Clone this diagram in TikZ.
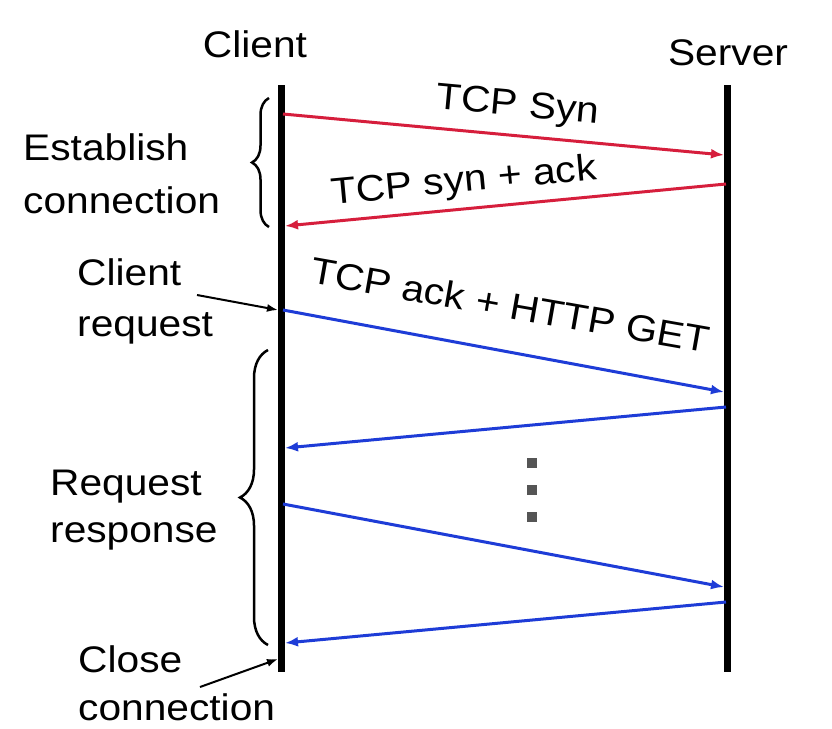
\documentclass[tikz,border=0pt]{standalone}
\usepackage{fontspec}
\setmainfont[FakeStretch=1.1]{Liberation Sans}
\usetikzlibrary{arrows.meta,decorations.pathreplacing}
\definecolor{msgred}{RGB}{214,30,60}
\definecolor{msgblue}{RGB}{30,60,215}
\definecolor{dotgray}{RGB}{85,85,85}
\begin{document}
\begin{tikzpicture}[x=1pt,y=-1pt,
  txt/.style={font=\fontsize{37}{44}\selectfont, inner sep=0pt},
  lbl/.style={txt, anchor=base west},
  ttl/.style={txt, anchor=base},
  lifeline/.style={line width=7pt},
  redmsg/.style={draw=msgred, line width=3pt, -{Latex[length=13pt,width=10pt]}},
  bluemsg/.style={draw=msgblue, line width=3pt, -{Latex[length=13pt,width=10pt]}},
  note/.style={draw=black, line width=2pt, -{Latex[length=11pt,width=8pt]}},
  bracestyle/.style={draw=black, line width=2.5pt, decorate},
  dotsq/.style={fill=dotgray, minimum size=10pt, inner sep=0pt}
]
\useasboundingbox (0,0) rectangle (832,728);
\fill[white] (0,0) rectangle (832,728);

% titles
\node[ttl] (client) at (255,57) {Client};
\node[ttl] (server) at (728,65) {Server};

% lifelines
\coordinate (ctop) at (281.5,85);
\coordinate (cbot) at (281.5,672);
\coordinate (stop) at (727.5,85);
\coordinate (sbot) at (727.5,672);
\draw[lifeline] (ctop) -- (cbot);
\draw[lifeline] (stop) -- (sbot);

% message end points
\coordinate (c1) at (283,114);  \coordinate (s1) at (724,155);
\coordinate (s2) at (726,184);  \coordinate (c2) at (285,226);
\coordinate (c3) at (283,310);  \coordinate (s3) at (724,392);
\coordinate (s4) at (726,407);  \coordinate (c4) at (285,448);
\coordinate (c5) at (283,504);  \coordinate (s5) at (724,587);
\coordinate (s6) at (726,602);  \coordinate (c6) at (285,643);

\draw[redmsg] (c1) -- (s1);
\draw[redmsg] (s2) -- (c2);
\draw[bluemsg] (c3) -- (s3);
\draw[bluemsg] (s4) -- (c4);
\draw[bluemsg] (c5) -- (s5);
\draw[bluemsg] (s6) -- (c6);

% message labels
\node[ttl, rotate=-5.3] (syn) at (517,116) {TCP Syn};
\node[ttl, rotate=5.4] (synack) at (465,192) {TCP syn + ack};
\node[ttl, rotate=-10] (get) at (508,318) {TCP ack + HTTP GET};

% dots
\node[dotsq] (d1) at (532,463) {};
\node[dotsq] (d2) at (532,490) {};
\node[dotsq] (d3) at (532,517) {};

% braces
\coordinate (b1a) at (269,227);
\coordinate (b1b) at (269,98);
\draw[bracestyle, decoration={brace, amplitude=17pt}] (b1a) -- (b1b);
\coordinate (b2a) at (268,645);
\coordinate (b2b) at (268,350);
\draw[bracestyle, decoration={brace, amplitude=28pt}] (b2a) -- (b2b);

% left labels
\node[lbl] (est1) at (23,160) {Establish};
\node[lbl] (est2) at (23,213) {connection};
\node[lbl] (req1) at (77,285) {Client};
\node[lbl] (req2) at (77,336) {request};
\node[lbl] (rr1) at (50,495) {Request};
\node[lbl] (rr2) at (50,542) {response};
\node[lbl] (cl1) at (78,672) {Close};
\node[lbl] (cl2) at (78,720) {connection};

% annotation arrows
\coordinate (na1) at (197,295);
\coordinate (na2) at (278,310);
\draw[note] (na1) -- (na2);
\coordinate (nb1) at (200,687);
\coordinate (nb2) at (278,659);
\draw[note] (nb1) -- (nb2);
\end{tikzpicture}
\end{document}
